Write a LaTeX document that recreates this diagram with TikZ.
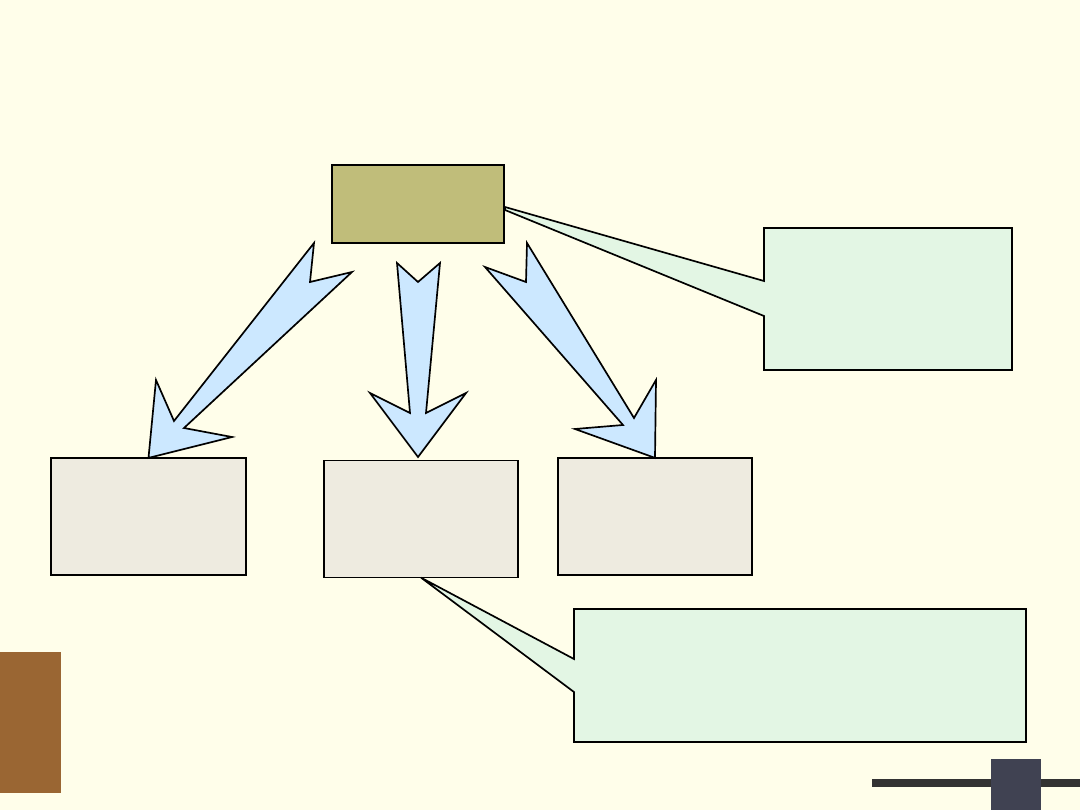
\documentclass[tikz,border=0pt]{standalone}
\usepackage{tikz}
\usetikzlibrary{positioning, calc}

\definecolor{slidebg}{RGB}{255,254,234}
\definecolor{olivebox}{RGB}{192,189,122}
\definecolor{greybox}{RGB}{238,235,224}
\definecolor{notegreen}{RGB}{227,246,228}
\definecolor{arrowblue}{RGB}{204,232,255}
\definecolor{barbrown}{RGB}{154,102,51}
\definecolor{bardark}{RGB}{51,51,51}
\definecolor{blockdark}{RGB}{64,66,82}

\tikzset{
  topbox/.style={draw, line width=1.2pt, fill=olivebox, inner sep=0pt, outer sep=0pt},
  lowbox/.style={draw, line width=1.2pt, fill=greybox, inner sep=0pt, outer sep=0pt,
    minimum width=4.86cm, minimum height=2.93cm},
  bigarrow/.style={draw, line width=1.2pt, fill=arrowblue, line join=miter},
  callout/.style={draw, line width=1.2pt, fill=notegreen, line join=miter}
}

\begin{document}
\begin{tikzpicture}[x=0.025cm, y=-0.025cm]
  \useasboundingbox (0,0) rectangle (1080,810);
  \fill[slidebg] (0,0) rectangle (1080,810);

  % Boxes
  \node[topbox, minimum width=4.3cm, minimum height=1.95cm] (top) at (418,204) {};
  \node[lowbox] (left) at (148.5,516.5) {};
  \node[lowbox] (mid) at (421,519) {};
  \node[lowbox] (right) at (655,516.5) {};

  % Block arrows
  \draw[bigarrow] (314,243) -- (174,421) -- (156,380) -- (left.north) -- (232,437)
    -- (184,428) -- (352,272) -- (310,282) -- cycle;
  \draw[bigarrow] (397,263) -- (418,282) -- (440,263) -- (426,413) -- (466,393)
    -- (418,457) -- (370,393) -- (410,413) -- cycle;
  \draw[bigarrow] (527,243) -- (634,418) -- (656,380) -- (right.north) -- (575,429)
    -- (623,425) -- (485,267) -- (526,282) -- cycle;

  % Callouts
  \draw[callout] ($(top.east)+(1,3)$) -- (764,281) -- (764,228) -- (1012,228)
    -- (1012,370) -- (764,370) -- (764,316) -- ($(top.east)+(1,6)$) -- cycle;
  \draw[callout] (mid.south) -- (574,659) -- (574,609) -- (1026,609)
    -- (1026,742) -- (574,742) -- (574,692) -- cycle;

  % Decorations
  \fill[barbrown] (0,652) rectangle (61,793);
  \draw[bardark, line width=0.2cm] (872,783) -- (1080,783);
  \fill[blockdark] (991,759) rectangle (1041,810);
\end{tikzpicture}
\end{document}
